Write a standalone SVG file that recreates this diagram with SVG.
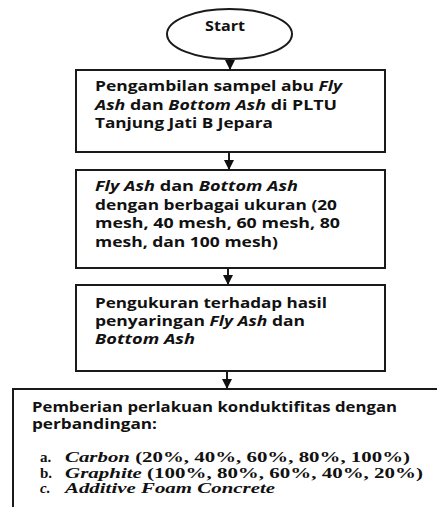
<svg xmlns="http://www.w3.org/2000/svg" width="437" height="507" viewBox="0 0 437 507">
<style>
.box{fill:#fff;stroke:#1a1a1a;stroke-width:2}
.t{font-family:"Open Sans","DejaVu Sans",sans-serif;font-weight:bold;font-size:13.5px;fill:#111}
.t4{font-family:"Open Sans","DejaVu Sans",sans-serif;font-weight:bold;font-size:13.5px;fill:#111}
.s{font-family:"Liberation Serif","Times New Roman",serif;font-weight:bold;font-size:15px;fill:#111}
.i{font-style:italic}
.c{stroke:#1a1a1a;stroke-width:2;fill:none}
</style>
<defs>
<marker id="ah" markerWidth="11" markerHeight="10" refX="10" refY="5" orient="auto" markerUnits="userSpaceOnUse">
<path d="M0,0 L10,5 L0,10 Z" fill="#111"/>
</marker>
</defs>
<rect width="437" height="507" fill="#fff"/>
<g id="connectors">
<line class="c" x1="230" y1="59" x2="230" y2="70" marker-end="url(#ah)"/>
<line class="c" x1="229" y1="152" x2="229" y2="170" marker-end="url(#ah)"/>
<line class="c" x1="228" y1="268" x2="228" y2="285" marker-end="url(#ah)"/>
<line class="c" x1="227" y1="371" x2="227" y2="389" marker-end="url(#ah)"/>
</g>
<g id="start">
<ellipse cx="229.5" cy="34" rx="62.5" ry="25" fill="#fff" stroke="#1a1a1a" stroke-width="2"/>
<text class="t" x="225" y="31" text-anchor="middle" textLength="40" lengthAdjust="spacingAndGlyphs">Start</text>
</g>
<g id="step1">
<rect class="box" x="76" y="70" width="309" height="82"/>
<text class="t" x="95" y="91" textLength="247" lengthAdjust="spacingAndGlyphs">Pengambilan sampel abu <tspan class="i">Fly</tspan></text>
<text class="t" x="95" y="110" textLength="242" lengthAdjust="spacingAndGlyphs"><tspan class="i">Ash</tspan> dan <tspan class="i">Bottom Ash</tspan> di PLTU</text>
<text class="t" x="95" y="128" textLength="178" lengthAdjust="spacingAndGlyphs">Tanjung Jati B Jepara</text>
</g>
<g id="step2">
<rect class="box" x="76" y="170" width="309" height="98"/>
<text class="t" x="95" y="191" textLength="203" lengthAdjust="spacingAndGlyphs"><tspan class="i">Fly Ash</tspan> dan <tspan class="i">Bottom Ash</tspan></text>
<text class="t" x="95" y="210" textLength="242" lengthAdjust="spacingAndGlyphs">dengan berbagai ukuran (20</text>
<text class="t" x="95" y="228" textLength="245" lengthAdjust="spacingAndGlyphs">mesh, 40 mesh, 60 mesh, 80</text>
<text class="t" x="95" y="247" textLength="183" lengthAdjust="spacingAndGlyphs">mesh, dan 100 mesh)</text>
</g>
<g id="step3">
<rect class="box" x="76" y="285" width="309" height="86"/>
<text class="t" x="95" y="308" textLength="232" lengthAdjust="spacingAndGlyphs">Pengukuran terhadap hasil</text>
<text class="t" x="95" y="326" textLength="210" lengthAdjust="spacingAndGlyphs">penyaringan <tspan class="i">Fly Ash</tspan> dan</text>
<text class="t i" x="95" y="344" textLength="100" lengthAdjust="spacingAndGlyphs">Bottom Ash</text>
</g>
<g id="step4">
<rect class="box" x="13" y="389" width="430" height="125"/>
<text class="t4" x="32" y="412" textLength="365" lengthAdjust="spacingAndGlyphs">Pemberian perlakuan konduktifitas dengan</text>
<text class="t4" x="32" y="429" textLength="125" lengthAdjust="spacingAndGlyphs">perbandingan:</text>
<text class="s" x="40" y="462">a.</text>
<text class="s" x="65" y="462" textLength="345" lengthAdjust="spacingAndGlyphs"><tspan class="i">Carbon</tspan> (20%, 40%, 60%, 80%, 100%)</text>
<text class="s" x="40" y="478">b.</text>
<text class="s" x="65" y="478" textLength="358" lengthAdjust="spacingAndGlyphs"><tspan class="i">Graphite</tspan> (100%, 80%, 60%, 40%, 20%)</text>
<text class="s i" x="40" y="493">c.</text>
<text class="s i" x="65" y="493" textLength="210" lengthAdjust="spacingAndGlyphs">Additive Foam Concrete</text>
</g>
</svg>
